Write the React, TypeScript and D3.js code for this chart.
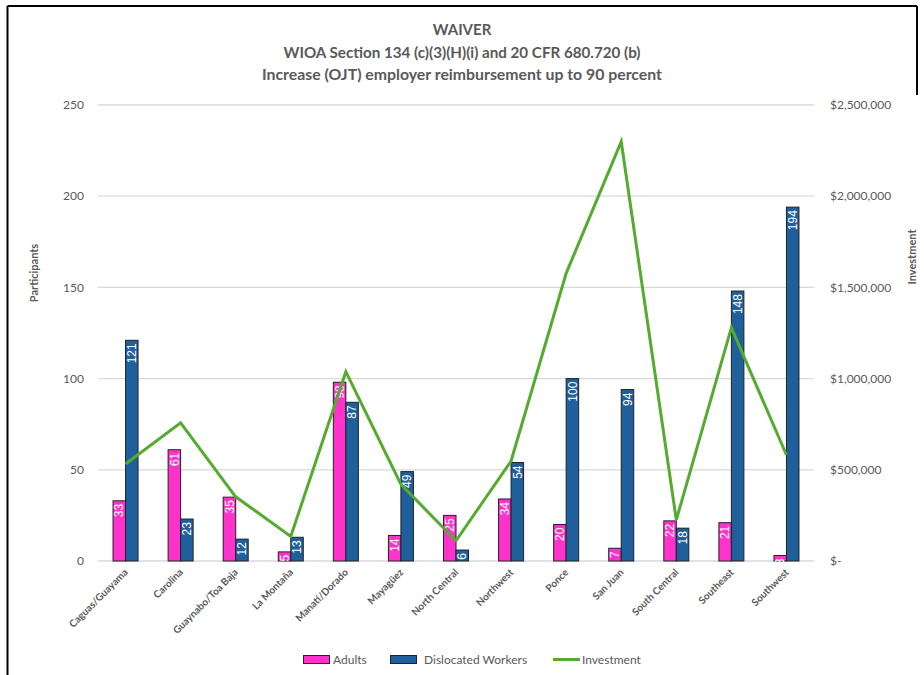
import React from "react";
import * as d3 from "d3";

// Workforce regions
const regions = [
  "Caguas/Guayama",
  "Carolina",
  "Guaynabo/Toa Baja",
  "La Montaña",
  "Manatí/Dorado",
  "Mayagüez",
  "North Central",
  "Northwest",
  "Ponce",
  "San Juan",
  "South Central",
  "Southeast",
  "Southwest",
];

// Participants per region
const adults = [33, 61, 35, 5, 98, 14, 25, 34, 20, 7, 22, 21, 3];
const dislocatedWorkers = [121, 23, 12, 13, 87, 49, 6, 54, 100, 94, 18, 148, 194];

// Investment per region (USD)
const investment = [
  532000, 758000, 352000, 135000, 1038000, 420000, 111000, 548000, 1577000,
  2299000, 225000, 1279000, 581000,
];

const participantTicks = [0, 50, 100, 150, 200, 250];
const investmentTicks = [0, 500000, 1000000, 1500000, 2000000, 2500000];

const titleLines = [
  "WAIVER",
  "WIOA Section 134 (c)(3)(H)(i) and 20 CFR 680.720 (b)",
  "Increase (OJT) employer reimbursement up to 90 percent",
];
const titleWidths = [undefined, 357, 400];

const W = 924;
const H = 675;
const PINK = "#ff33cc";
const BLUE = "#1f5f9b";
const GREEN = "#55aa30";
const GRAY = "#595959";
const FONT = "Lato, 'Open Sans', sans-serif";

const plot = { left: 98, right: 814, top: 105, bottom: 561 };

const fmtMoney = (v: number) =>
  v === 0 ? "$-" : "$" + d3.format(",")(v);

export default function App() {
  const x = d3
    .scaleBand<string>()
    .domain(regions)
    .range([plot.left, plot.right])
    .paddingInner(0)
    .paddingOuter(0);

  const yL = d3.scaleLinear().domain([0, 250]).range([plot.bottom, plot.top]);
  const yR = d3
    .scaleLinear()
    .domain([0, 2500000])
    .range([plot.bottom, plot.top]);

  const barW = 12.5;
  const series = d3
    .scaleBand<string>()
    .domain(["Adults", "Dislocated Workers"])
    .range([-barW, barW]);

  const cx = (r: string) => (x(r) as number) + x.bandwidth() / 2;

  const line = d3
    .line<number>()
    .x((_, i) => cx(regions[i]))
    .y((d) => yR(d));

  const seriesData = [
    { name: "Adults", values: adults, color: PINK },
    { name: "Dislocated Workers", values: dislocatedWorkers, color: BLUE },
  ];

  return (
    <div style={{ position: "fixed", left: 0, top: 0 }}>
      <svg width={W} height={H} style={{ display: "block", background: "#fff" }}>
        {/* frame */}
        <line x1={7.5} y1={6} x2={7.5} y2={H} stroke="#000" strokeWidth={2} />
        <line x1={7.5} y1={6} x2={917} y2={6} stroke="#000" strokeWidth={2} />
        <line x1={917} y1={6} x2={917} y2={95} stroke="#000" strokeWidth={2} />

        {/* title */}
        {titleLines.map((t, i) => (
          <text
            key={t}
            x={462}
            y={35 + i * 22.5}
            textAnchor="middle"
            fontFamily={FONT}
            fontWeight={700}
            fontSize={15}
            fill={GRAY}
            textLength={titleWidths[i]}
            lengthAdjust={titleWidths[i] ? "spacingAndGlyphs" : undefined}
          >
            {t}
          </text>
        ))}

        {/* gridlines */}
        {participantTicks.map((t) => (
          <line
            key={t}
            x1={plot.left}
            x2={plot.right}
            y1={yL(t)}
            y2={yL(t)}
            stroke="#d9d9d9"
            strokeWidth={1.3}
          />
        ))}

        {/* left axis */}
        {participantTicks.map((t) => (
          <text
            key={t}
            x={84}
            y={yL(t)}
            dy="0.35em"
            textAnchor="end"
            fontFamily={FONT}
            fontSize={12}
            fill={GRAY}
          >
            {t}
          </text>
        ))}
        <text
          transform="translate(38,273) rotate(-90)"
          textAnchor="middle"
          fontFamily={FONT}
          fontWeight={700}
          fontSize={11}
          fill={GRAY}
        >
          Participants
        </text>

        {/* right axis */}
        {investmentTicks.map((t) => (
          <text
            key={t}
            x={830}
            y={yR(t)}
            dy="0.35em"
            textAnchor="start"
            fontFamily={FONT}
            fontSize={12}
            fill={GRAY}
          >
            {fmtMoney(t)}
          </text>
        ))}
        <text
          transform="translate(916,257) rotate(-90)"
          textAnchor="middle"
          fontFamily={FONT}
          fontWeight={700}
          fontSize={11}
          fill={GRAY}
        >
          Investment
        </text>

        {/* bars */}
        {seriesData.map((s) =>
          s.values.map((v, i) => {
            const r = regions[i];
            const bx = cx(r) + (series(s.name) as number);
            const top = yL(v);
            return (
              <rect
                key={s.name + r}
                x={bx}
                y={top}
                width={series.bandwidth()}
                height={plot.bottom - top}
                fill={s.color}
                stroke="#222"
                strokeWidth={1}
              />
            );
          })
        )}

        {/* bar value labels */}
        {seriesData.map((s) =>
          s.values.map((v, i) => {
            const r = regions[i];
            const bcx =
              cx(r) + (series(s.name) as number) + series.bandwidth() / 2;
            const top = yL(v);
            return (
              <text
                key={"l" + s.name + r}
                transform={`translate(${bcx},${top + 3}) rotate(-90)`}
                textAnchor="end"
                dy="0.35em"
                fontFamily="'Liberation Sans', Arial, sans-serif"
                fontSize={12}
                fill="#fff"
              >
                {v}
              </text>
            );
          })
        )}

        {/* investment line */}
        <path
          d={line(investment) ?? ""}
          fill="none"
          stroke={GREEN}
          strokeWidth={3}
          strokeLinejoin="miter"
        />

        {/* category labels */}
        {regions.map((r) => (
          <text
            key={"x" + r}
            transform={`translate(${cx(r) + 3},${plot.bottom + 12}) rotate(-45)`}
            textAnchor="end"
            fontFamily={FONT}
            fontWeight={700}
            fontSize={10}
            fill={GRAY}
          >
            {r}
          </text>
        ))}

        {/* legend */}
        <g fontFamily={FONT} fontSize={12} fill={GRAY}>
          <rect x={303.5} y={655.5} width={26} height={8} fill={PINK} stroke="#222" />
          <text x={333} y={659.5} dy="0.35em">Adults</text>
          <rect x={390.5} y={655.5} width={26} height={8} fill={BLUE} stroke="#222" />
          <text x={424} y={659.5} dy="0.35em">Dislocated Workers</text>
          <line x1={553} x2={580} y1={659.5} y2={659.5} stroke={GREEN} strokeWidth={3} />
          <text x={582} y={659.5} dy="0.35em">Investment</text>
        </g>
      </svg>
    </div>
  );
}
